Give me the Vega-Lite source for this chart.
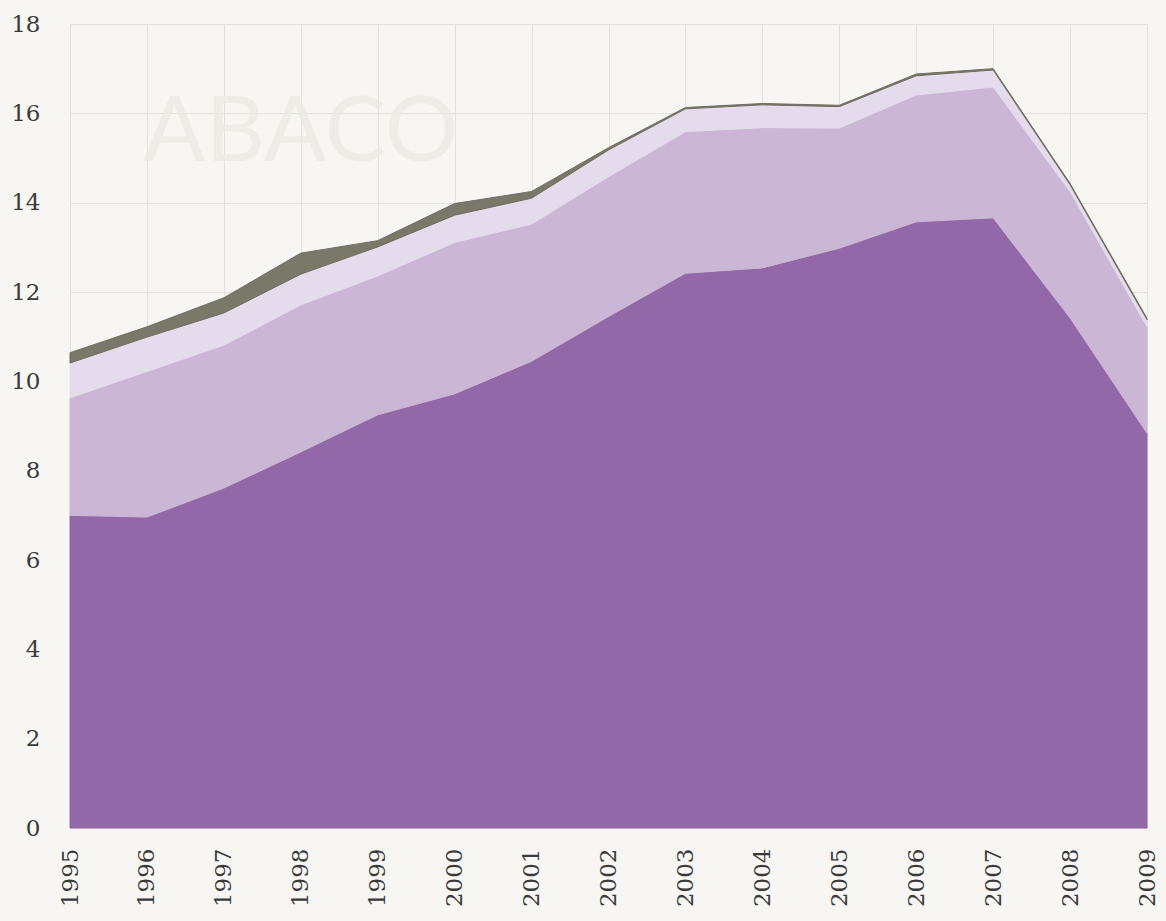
{
  "$schema": "https://vega.github.io/schema/vega-lite/v6.json",
  "width": 1077,
  "height": 804,
  "autosize": {"type": "none"},
  "padding": {"left": 70, "top": 24, "right": 19, "bottom": 93},
  "background": "#f7f6f2",
  "config": {
    "view": {"stroke": null},
    "axis": {"labelFont": "DejaVu Serif", "labelFontSize": 23, "labelColor": "#3a3a3a", "gridColor": "#e3e1dc", "gridWidth": 1, "ticks": false, "domain": false, "title": null}
  },
  "datasets": {
    "series": [
      {"year": 1995, "series": "s1", "value": 7.00},
      {"year": 1996, "series": "s1", "value": 6.96},
      {"year": 1997, "series": "s1", "value": 7.61},
      {"year": 1998, "series": "s1", "value": 8.42},
      {"year": 1999, "series": "s1", "value": 9.25},
      {"year": 2000, "series": "s1", "value": 9.72},
      {"year": 2001, "series": "s1", "value": 10.45},
      {"year": 2002, "series": "s1", "value": 11.45},
      {"year": 2003, "series": "s1", "value": 12.42},
      {"year": 2004, "series": "s1", "value": 12.54},
      {"year": 2005, "series": "s1", "value": 12.98},
      {"year": 2006, "series": "s1", "value": 13.57},
      {"year": 2007, "series": "s1", "value": 13.66},
      {"year": 2008, "series": "s1", "value": 11.42},
      {"year": 2009, "series": "s1", "value": 8.84},
      {"year": 1995, "series": "s2", "value": 2.63},
      {"year": 1996, "series": "s2", "value": 3.26},
      {"year": 1997, "series": "s2", "value": 3.20},
      {"year": 1998, "series": "s2", "value": 3.29},
      {"year": 1999, "series": "s2", "value": 3.11},
      {"year": 2000, "series": "s2", "value": 3.39},
      {"year": 2001, "series": "s2", "value": 3.07},
      {"year": 2002, "series": "s2", "value": 3.13},
      {"year": 2003, "series": "s2", "value": 3.17},
      {"year": 2004, "series": "s2", "value": 3.14},
      {"year": 2005, "series": "s2", "value": 2.69},
      {"year": 2006, "series": "s2", "value": 2.84},
      {"year": 2007, "series": "s2", "value": 2.93},
      {"year": 2008, "series": "s2", "value": 2.83},
      {"year": 2009, "series": "s2", "value": 2.38},
      {"year": 1995, "series": "s3", "value": 0.78},
      {"year": 1996, "series": "s3", "value": 0.77},
      {"year": 1997, "series": "s3", "value": 0.72},
      {"year": 1998, "series": "s3", "value": 0.69},
      {"year": 1999, "series": "s3", "value": 0.65},
      {"year": 2000, "series": "s3", "value": 0.61},
      {"year": 2001, "series": "s3", "value": 0.58},
      {"year": 2002, "series": "s3", "value": 0.60},
      {"year": 2003, "series": "s3", "value": 0.51},
      {"year": 2004, "series": "s3", "value": 0.51},
      {"year": 2005, "series": "s3", "value": 0.48},
      {"year": 2006, "series": "s3", "value": 0.43},
      {"year": 2007, "series": "s3", "value": 0.38},
      {"year": 2008, "series": "s3", "value": 0.15},
      {"year": 2009, "series": "s3", "value": 0.16},
      {"year": 1995, "series": "s4", "value": 0.23},
      {"year": 1996, "series": "s4", "value": 0.23},
      {"year": 1997, "series": "s4", "value": 0.34},
      {"year": 1998, "series": "s4", "value": 0.47},
      {"year": 1999, "series": "s4", "value": 0.14},
      {"year": 2000, "series": "s4", "value": 0.26},
      {"year": 2001, "series": "s4", "value": 0.15},
      {"year": 2002, "series": "s4", "value": 0.05},
      {"year": 2003, "series": "s4", "value": 0.03},
      {"year": 2004, "series": "s4", "value": 0.03},
      {"year": 2005, "series": "s4", "value": 0.03},
      {"year": 2006, "series": "s4", "value": 0.04},
      {"year": 2007, "series": "s4", "value": 0.03},
      {"year": 2008, "series": "s4", "value": 0.03},
      {"year": 2009, "series": "s4", "value": 0.03}
    ],
    "mark": [{"label": "ABACO", "year": 1998, "value": 15.55}]
  },
  "layer": [
    {
      "data": {"name": "mark"},
      "mark": {"type": "text", "font": "Lato", "fontSize": 92, "fontWeight": 400, "color": "#ecebe6", "opacity": 0.85, "align": "center", "baseline": "middle"},
      "encoding": {
        "x": {"field": "year", "type": "quantitative"},
        "y": {"field": "value", "type": "quantitative"},
        "text": {"field": "label"}
      }
    },
    {
      "data": {"name": "series"},
      "mark": {"type": "area", "strokeWidth": 1},
      "encoding": {
        "x": {"field": "year", "type": "quantitative", "scale": {"domain": [1995, 2009], "nice": false, "zero": false},
              "axis": {"values": [1995,1996,1997,1998,1999,2000,2001,2002,2003,2004,2005,2006,2007,2008,2009], "format": "d", "labelAngle": -90, "labelAlign": "right", "labelBaseline": "middle", "labelPadding": 20, "labelFlush": false, "labelOverlap": false}},
        "y": {"field": "value", "type": "quantitative", "stack": "zero", "scale": {"domain": [0, 18], "nice": false},
              "axis": {"values": [0,2,4,6,8,10,12,14,16,18], "labelPadding": 30}},
        "color": {"field": "series", "type": "nominal", "scale": {"domain": ["s1","s2","s3","s4"], "range": ["#9368a8","#cbb7d5","#e4dcec","#7a7869"]}, "legend": null},
        "stroke": {"field": "series", "type": "nominal", "scale": {"domain": ["s1","s2","s3","s4"], "range": ["#9368a8","#cbb7d5","#e4dcec","#6e6c60"]}, "legend": null},
        "order": {"field": "series"}
      }
    }
  ]
}
